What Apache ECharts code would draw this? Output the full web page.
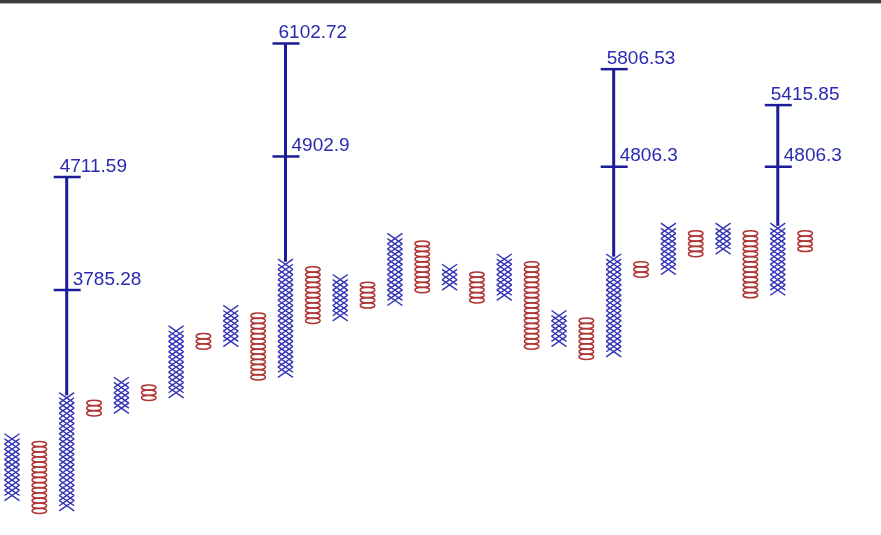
<!DOCTYPE html>
<html><head><meta charset="utf-8">
<script src="https://cdn.jsdelivr.net/npm/echarts@6/dist/echarts.min.js"></script>
<style>html,body{margin:0;padding:0;background:#fff}#c{width:881px;height:535px}</style>
</head><body><div id="c"></div>
<script>
// Point & Figure, 1% box, box index k => price = BASE_PRICE * 1.01^k
const BASE_PRICE = 3785.28;
const BOX_RATIO = 1.01;
const colTypes = ['X','O','X','O','X','O','X','O','X','O','X','O','X','O','X','O','X','O','X','O','X','O','X','O','X','O','X','O','X','O'];
const colLow  = [-40,-43,-42,-24,-23,-21,-20,-11,-10,-17,-16,-6,-5,-3,-2,0,1,-2,-1,-11,-10,-13,-12,3,4,7,8,-1,0,8];
const colHigh = [-29,-30,-21,-22,-18,-19,-8,-9,-4,-5,5,4,2,1,10,9,4,3,6,5,-5,-6,6,5,12,11,12,11,12,11];
const targetCol  = [2, 10, 22, 28];
const targetLow  = [3785.28, 4902.9, 4806.3, 4806.3];
const targetHigh = [4711.59, 6102.72, 5806.53, 5415.85];

const toBox = p => Math.log(p / BASE_PRICE) / Math.log(BOX_RATIO);
const colData = colTypes.map((t, i) => [i, colLow[i], colHigh[i], t === 'X' ? 1 : 0]);
const tgtData = targetCol.map((c, j) => [c, toBox(targetLow[j]), toBox(targetHigh[j]), colHigh[c], targetLow[j], targetHigh[j]]);

const X_COLOR = '#3333b6', O_COLOR = '#b03434', T_COLOR = '#1c1c9a', L_COLOR = '#2a2ab0';

const chart = echarts.init(document.getElementById('c'), null, {renderer: 'canvas'});
chart.setOption({
  animation: false,
  backgroundColor: '#fff',
  grid: {left: 1.06, right: 62.2, top: 12.66, height: 518.74},
  xAxis: {type: 'value', min: -0.4, max: 29.5, show: false},
  yAxis: {type: 'value', min: -47, max: 54, show: false},
  graphic: [
    {type: 'rect', left: 0, top: 0, shape: {width: 881, height: 3}, style: {fill: '#3d3d3d'}, z: 100},
    {type: 'rect', left: 0, top: 3, shape: {width: 881, height: 1}, style: {fill: '#b0b0b0'}, z: 100}
  ],
  series: [
    {
      type: 'custom',
      data: colData,
      renderItem: function (params, api) {
        const i = api.value(0), lo = api.value(1), hi = api.value(2), isX = api.value(3) === 1;
        const children = [];
        for (let k = lo; k <= hi; k++) {
          const p = api.coord([i, k]);
          if (isX) {
            const w = 7.5, h = 5.2;
            children.push({type: 'line', shape: {x1: p[0]-w, y1: p[1]-h, x2: p[0]+w, y2: p[1]+h}, style: {stroke: X_COLOR, lineWidth: 1.4}});
            children.push({type: 'line', shape: {x1: p[0]+w, y1: p[1]-h, x2: p[0]-w, y2: p[1]+h}, style: {stroke: X_COLOR, lineWidth: 1.4}});
          } else {
            children.push({type: 'ellipse', shape: {cx: p[0], cy: p[1], rx: 7.3, ry: 2.7}, style: {stroke: O_COLOR, fill: null, lineWidth: 1.5}});
          }
        }
        return {type: 'group', children: children};
      }
    },
    {
      type: 'custom',
      data: tgtData,
      z: 3,
      renderItem: function (params, api) {
        const c = api.value(0), lo = api.value(1), hi = api.value(2), top = api.value(3);
        const pTop = api.coord([c, hi]), pLo = api.coord([c, lo]), pCol = api.coord([c, top + 0.5]);
        const x = pTop[0];
        const ch = [];
        ch.push({type: 'line', shape: {x1: x, y1: pTop[1], x2: x, y2: pCol[1]}, style: {stroke: T_COLOR, lineWidth: 3}});
        [pTop[1], pLo[1]].forEach(y => ch.push({type: 'line', shape: {x1: x - 13, y1: y, x2: x + 14, y2: y}, style: {stroke: T_COLOR, lineWidth: 2.5}}));
        ch.push({type: 'text', style: {text: String(api.value(5)), x: x - 7, y: pTop[1] - 1, textVerticalAlign: 'bottom', font: '19px "Liberation Sans", Arial, sans-serif', fill: L_COLOR}});
        ch.push({type: 'text', style: {text: String(api.value(4)), x: x + 6, y: pLo[1] - 1, textVerticalAlign: 'bottom', font: '19px "Liberation Sans", Arial, sans-serif', fill: L_COLOR}});
        return {type: 'group', children: ch};
      }
    }
  ]
});
</script></body></html>
